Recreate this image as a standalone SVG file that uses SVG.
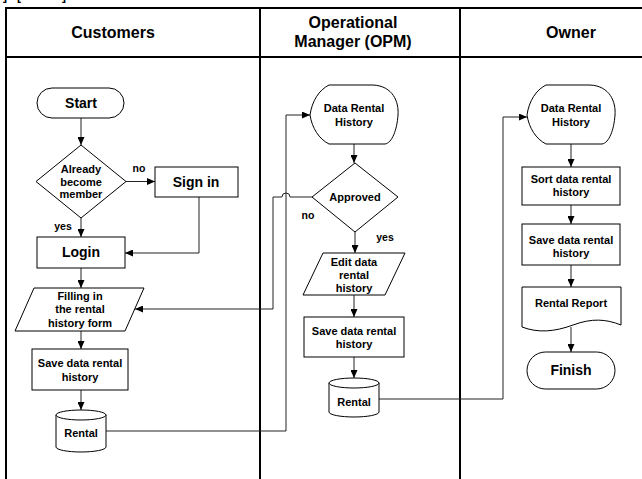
<svg xmlns="http://www.w3.org/2000/svg" width="642" height="479" viewBox="0 0 642 479">
  <style>
    .lane { stroke: #000; stroke-width: 2; fill: none; }
    .shape { fill: #fff; stroke: #000; stroke-width: 1; }
    .conn { fill: none; stroke: #222; stroke-width: 1; }
    text { font-family: "Liberation Sans", Arial, sans-serif; font-weight: bold; fill: #000; text-anchor: middle; }
    .hd { font-size: 16px; }
    .big { font-size: 14px; }
    .sm { font-size: 11px; }
    .lbl { font-size: 10.5px; }
  </style>
  <defs>
    <marker id="arrow" markerUnits="userSpaceOnUse" markerWidth="8" markerHeight="7" refX="8" refY="3.5" orient="auto">
      <path d="M0,0 L8,3.5 L0,7 z" fill="#000"/>
    </marker>
  </defs>

  <rect width="642" height="479" fill="#fff"/>

  <!-- bracket marks along the top edge, cut by the page border -->
  <g id="topmarks" style="font-size:12px;font-weight:normal;text-anchor:start">
    <text x="5" y="0">]</text>
    <text x="19" y="0">[</text>
    <text x="64" y="0">]</text>
  </g>

  <!-- swimlane table -->
  <g id="lanes">
    <line class="lane" x1="6" y1="8" x2="642" y2="8"/>
    <line class="lane" x1="6" y1="57" x2="642" y2="57"/>
    <line class="lane" x1="6" y1="7" x2="6" y2="479"/>
    <line class="lane" x1="260" y1="8" x2="260" y2="479"/>
    <line class="lane" x1="460" y1="8" x2="460" y2="479"/>
    <text class="hd" x="113" y="38">Customers</text>
    <text class="hd" x="353" y="28">Operational</text>
    <text class="hd" x="353" y="47">Manager (OPM)</text>
    <text class="hd" x="571" y="38">Owner</text>
  </g>

  <!-- connectors -->
  <g id="connectors">
    <path class="conn" d="M81,118 V145" marker-end="url(#arrow)"/>
    <path class="conn" d="M126,181.5 H155" marker-end="url(#arrow)"/>
    <path class="conn" d="M81,218 V237" marker-end="url(#arrow)"/>
    <path class="conn" d="M199,197 V253 H125" marker-end="url(#arrow)"/>
    <path class="conn" d="M81,268 V288" marker-end="url(#arrow)"/>
    <path class="conn" d="M81,331 V349" marker-end="url(#arrow)"/>
    <path class="conn" d="M81,390 V410" marker-end="url(#arrow)"/>
    <path class="conn" d="M106,431 H286 V115 H310" marker-end="url(#arrow)"/>
    <path class="conn" d="M354,144 V163" marker-end="url(#arrow)"/>
    <path class="conn" d="M355,232 V253" marker-end="url(#arrow)"/>
    <path class="conn" d="M312,197 H290 A4,4 0 0 0 282,197 H273 V309 H135" marker-end="url(#arrow)"/>
    <path class="conn" d="M354,295 V317" marker-end="url(#arrow)"/>
    <path class="conn" d="M354,357 V378" marker-end="url(#arrow)"/>
    <path class="conn" d="M379,399 H503 V117 H527" marker-end="url(#arrow)"/>
    <path class="conn" d="M571,144 V167" marker-end="url(#arrow)"/>
    <path class="conn" d="M571,205 V224" marker-end="url(#arrow)"/>
    <path class="conn" d="M571,265 V287" marker-end="url(#arrow)"/>
    <path class="conn" d="M571,327 V352" marker-end="url(#arrow)"/>
    <text class="lbl" x="139" y="172">no</text>
    <text class="lbl" x="63" y="230">yes</text>
    <text class="lbl" x="308" y="219">no</text>
    <text class="lbl" x="385" y="241">yes</text>
  </g>

  <!-- Customers lane -->
  <g id="start">
    <rect class="shape" x="37" y="88" width="87" height="30" rx="15"/>
    <text class="big" x="81" y="108">Start</text>
  </g>
  <g id="member">
    <path class="shape" d="M81,145 L126,181.5 L81,218 L36,181.5 Z"/>
    <text class="sm" x="81" y="173">Already</text>
    <text class="sm" x="81" y="186">become</text>
    <text class="sm" x="81" y="198">member</text>
  </g>
  <g id="signin">
    <rect class="shape" x="155" y="167" width="83" height="30"/>
    <text class="big" x="196" y="187">Sign in</text>
  </g>
  <g id="login">
    <rect class="shape" x="37" y="237" width="88" height="31"/>
    <text class="big" x="81" y="257">Login</text>
  </g>
  <g id="fillform">
    <path class="shape" d="M34,288 H144 L125,331 H15 Z"/>
    <text class="sm" x="80" y="300">Filling in</text>
    <text class="sm" x="80" y="313">the rental</text>
    <text class="sm" x="80" y="327">history form</text>
  </g>
  <g id="savecust">
    <rect class="shape" x="32" y="349" width="96" height="41"/>
    <text class="sm" x="80" y="367">Save data rental</text>
    <text class="sm" x="80" y="381">history</text>
  </g>
  <g id="rentalcust">
    <path class="shape" d="M56,415 A25,5 0 0 1 106,415 V447 A25,5 0 0 1 56,447 Z"/>
    <path class="shape" d="M56,415 A25,5 0 0 0 106,415" fill="none"/>
    <text class="sm" x="81" y="437">Rental</text>
  </g>

  <!-- OPM lane -->
  <g id="drhopm">
    <path class="shape" d="M329,85 H373 C393,86 399,102 398,115 C397,130 392,143 385,144 H329 C319,139 312,128 310,115 C312,101 319,90 329,85 Z"/>
    <text class="sm" x="354" y="112">Data Rental</text>
    <text class="sm" x="354" y="126">History</text>
  </g>
  <g id="approved">
    <path class="shape" d="M355,163 L398,197 L355,232 L312,197 Z"/>
    <text class="sm" x="355" y="201">Approved</text>
  </g>
  <g id="editdata">
    <path class="shape" d="M323,253 H405 L385,295 H303 Z"/>
    <text class="sm" x="354" y="266">Edit data</text>
    <text class="sm" x="354" y="279">rental</text>
    <text class="sm" x="354" y="292">history</text>
  </g>
  <g id="saveopm">
    <rect class="shape" x="304" y="317" width="100" height="40"/>
    <text class="sm" x="354" y="335">Save data rental</text>
    <text class="sm" x="354" y="348">history</text>
  </g>
  <g id="rentalopm">
    <path class="shape" d="M329,383 A25,5 0 0 1 379,383 V412 A25,5 0 0 1 329,412 Z"/>
    <path class="shape" d="M329,383 A25,5 0 0 0 379,383" fill="none"/>
    <text class="sm" x="354" y="406">Rental</text>
  </g>

  <!-- Owner lane -->
  <g id="drhowner">
    <path class="shape" d="M546,85 H590 C610,86 616,102 615,115 C614,130 609,143 602,144 H546 C536,139 529,128 527,115 C529,101 536,90 546,85 Z"/>
    <text class="sm" x="571" y="112">Data Rental</text>
    <text class="sm" x="571" y="126">History</text>
  </g>
  <g id="sortdata">
    <rect class="shape" x="522" y="167" width="98" height="38"/>
    <text class="sm" x="571" y="183">Sort data rental</text>
    <text class="sm" x="571" y="196">history</text>
  </g>
  <g id="saveowner">
    <rect class="shape" x="522" y="224" width="98" height="41"/>
    <text class="sm" x="571" y="244">Save data rental</text>
    <text class="sm" x="571" y="257">history</text>
  </g>
  <g id="report">
    <path class="shape" d="M522,287 H621 V325 C606,319 592,318 573,325 C554,332 538,333 522,327 Z"/>
    <text class="sm" x="571" y="307">Rental Report</text>
  </g>
  <g id="finish">
    <rect class="shape" x="527" y="352" width="88" height="37" rx="18.5"/>
    <text class="big" x="571" y="375">Finish</text>
  </g>
</svg>
